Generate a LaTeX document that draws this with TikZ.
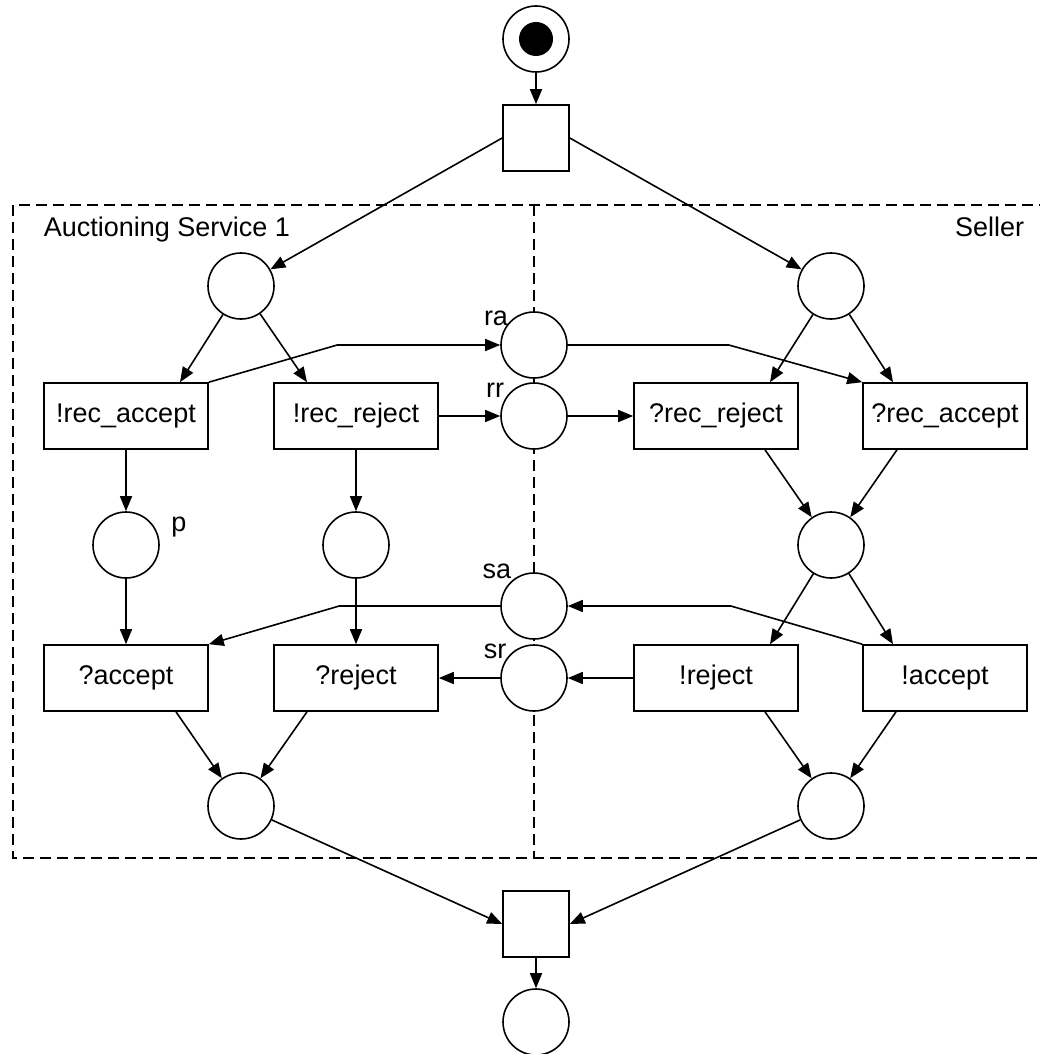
\documentclass[tikz,border=0pt]{standalone}
\usepackage{fontspec}
\setmainfont{Liberation Sans}
\usetikzlibrary{arrows.meta}

\begin{document}
\begin{tikzpicture}[x=1pt, y=-1pt, line width=1.6pt,
    >={Triangle[length=15pt,width=12pt]},
    font=\fontsize{27}{32}\selectfont,
    place/.style={circle, draw, fill=white, minimum size=66pt, inner sep=0pt},
    trans/.style={rectangle, draw, fill=white, minimum width=164pt, minimum height=66pt, inner sep=0pt},
    bar/.style={rectangle, draw, fill=white, minimum size=66pt, inner sep=0pt},
    lbl/.style={inner sep=0pt},
    box/.style={dash pattern=on 11pt off 6pt}]
    \useasboundingbox (0,0) rectangle (1040,1054);
    \draw[box] (13,205) rectangle (1060,858);
    \draw[box] (534,205) -- (534,858);
    \node[lbl, anchor=base west] (as1) at (43,236) {Auctioning Service 1};
    \node[lbl, anchor=base east] (sel) at (1025,236) {Seller};

    \node[place] (start) at (536,39) {};\fill (start) circle (17pt);
    \node[bar] (t0) at (536,138) {};
    \node[place] (a0) at (241,286) {};
    \node[place] (s0) at (831,286) {};
    \node[place] (ra) at (534,345) {};\node[lbl, anchor=base] (lra) at (496,325) {ra};
    \node[place] (rr) at (534,416) {};\node[lbl, anchor=base] (lrr) at (495,397) {rr};
    \node[trans] (recacc) at (126,416) {!rec\_accept};
    \node[trans] (recrej) at (356,416) {!rec\_reject};
    \node[trans] (qrecrej) at (716,416) {?rec\_reject};
    \node[trans] (qrecacc) at (945,416) {?rec\_accept};
    \node[place] (p) at (126,545) {};\node[lbl, anchor=base] (lp) at (179,531) {p};
    \node[place] (q) at (356,545) {};
    \node[place] (s1) at (831,545) {};
    \node[place] (sa) at (534,606) {};\node[lbl, anchor=base] (lsa) at (497,578) {sa};
    \node[place] (sr) at (534,678) {};\node[lbl, anchor=base] (lsr) at (495,658) {sr};
    \node[trans] (qacc) at (126,678) {?accept};
    \node[trans] (qrej) at (356,678) {?reject};
    \node[trans] (nrej) at (716,678) {!reject};
    \node[trans] (nacc) at (945,678) {!accept};
    \node[place] (a2) at (241,806) {};
    \node[place] (s2) at (831,806) {};
    \node[bar] (t1) at (536,924) {};
    \node[place] (stop) at (536,1022) {};

    \draw[->] (start) -- (t0);
    \draw[->] (t0.west) -- (a0);
    \draw[->] (t0.east) -- (s0);
    \draw[->] (a0) -- ([xshift=54pt]recacc.north);
    \draw[->] (a0) -- ([xshift=-49pt]recrej.north);
    \draw[->] (s0) -- ([xshift=54pt]qrecrej.north);
    \draw[->] (s0) -- ([xshift=-52pt]qrecacc.north);
    \draw[->] (recacc.north east) -- ([xshift=-163pt]ra.west) -- (ra.west);
    \draw[->] (ra.east) -- ([xshift=161pt]ra.east) -- (qrecacc.north west);
    \draw[->] (recrej) -- (rr);
    \draw[->] (rr) -- (qrecrej);
    \draw[->] (recacc) -- (p);
    \draw[->] (recrej) -- (q);
    \draw[->] ([xshift=49pt]qrecrej.south) -- (s1);
    \draw[->] ([xshift=-48pt]qrecacc.south) -- (s1);
    \draw[->] (p) -- (qacc);
    \draw[->] (q) -- (qrej);
    \draw[->] (s1) -- ([xshift=54pt]nrej.north);
    \draw[->] (s1) -- ([xshift=-52pt]nacc.north);
    \draw[->] (nacc.north west) -- ([xshift=163pt]sa.east) -- (sa.east);
    \draw[->] (sa.west) -- ([xshift=-161pt]sa.west) -- (qacc.north east);
    \draw[->] (nrej) -- (sr);
    \draw[->] (sr) -- (qrej);
    \draw[->] ([xshift=50pt]qacc.south) -- (a2);
    \draw[->] ([xshift=-49pt]qrej.south) -- (a2);
    \draw[->] ([xshift=49pt]nrej.south) -- (s2);
    \draw[->] ([xshift=-49pt]nacc.south) -- (s2);
    \draw[->] (a2) -- (t1.west);
    \draw[->] (s2) -- (t1.east);
    \draw[->] (t1) -- (stop);
\end{tikzpicture}
\end{document}
